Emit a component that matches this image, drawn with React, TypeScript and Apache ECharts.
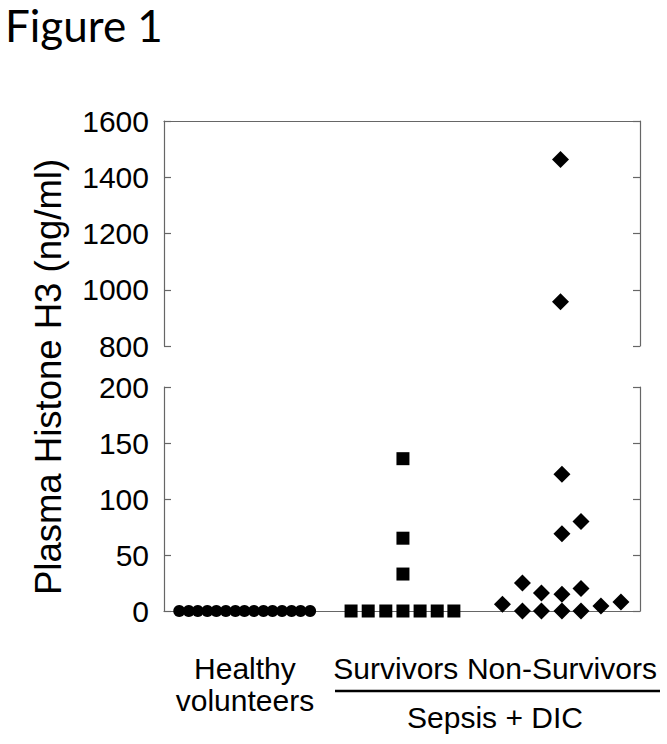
import React, { useEffect, useRef } from "react";
import * as echarts from "echarts";

// Group labels and their x positions (x scale 0..100 across the plot)
const groupLabels = ["Healthy\nvolunteers", "Survivors", "Non-Survivors"];
const groupLabelX = [17, 48.7, 83.6];

// Tick settings
const upperTicks = { min: 800, max: 1600, interval: 200 };
const lowerTicks = { min: 0, max: 200, interval: 50 };

// Data points [x position, plasma histone H3 ng/ml]
const healthy: [number, number][] = [
  [3.2, 0], [5.2, 0], [7.1, 0], [9.1, 0], [11.0, 0], [13.0, 0], [15.0, 0], [16.9, 0],
  [18.9, 0], [20.9, 0], [22.8, 0], [24.8, 0], [26.8, 0], [28.7, 0], [30.7, 0],
];
const survivors: [number, number][] = [
  [39.3, 0], [42.9, 0], [46.6, 0], [50.2, 0], [53.8, 0], [57.4, 0], [60.9, 0],
  [50.2, 33], [50.2, 65], [50.2, 136],
];
const nonSurvivors: [number, number][] = [
  [71.1, 6], [75.3, 25], [75.3, 0], [79.3, 16], [79.3, 0],
  [83.6, 122], [83.6, 69], [83.6, 15], [83.6, 0],
  [87.6, 80], [87.6, 20], [87.6, 0], [91.8, 4.5], [96.0, 8],
  [83.3, 1463], [83.3, 957],
];

const FONT = "'Liberation Sans', Arial, sans-serif";
const AX = "#666666";

export default function App() {
  const ref = useRef<HTMLDivElement>(null);
  useEffect(() => {
    if (!ref.current) return;
    const chart = echarts.init(ref.current, undefined, { renderer: "svg" });
    const gridL = 164, gridR = 27;
    const yAxisCommon = (grid: number, pos: "left" | "right", ticks: any, labels: boolean) => ({
      type: "value",
      gridIndex: grid,
      position: pos,
      min: ticks.min,
      max: ticks.max,
      interval: ticks.interval,
      axisLine: { show: true, lineStyle: { color: AX, width: 1.2 } },
      axisTick: { show: true, inside: true, length: 7, lineStyle: { color: AX, width: 1.2 } },
      axisLabel: labels
        ? { show: true, color: "#000", fontSize: 30, fontFamily: FONT, margin: 15, formatter: (v: number) => String(v) }
        : { show: false },
      splitLine: { show: false },
    });
    const upper = (arr: [number, number][]) => arr.filter((p) => p[1] >= 800);
    const lower = (arr: [number, number][]) => arr.filter((p) => p[1] < 800);
    const mark = { color: "#000", opacity: 1 };
    chart.setOption({
      animation: false,
      backgroundColor: "#fff",
      grid: [
        { left: gridL, right: gridR, top: 121, height: 225 },
        { left: gridL, right: gridR, top: 387, height: 224 },
      ],
      xAxis: [
        {
          type: "value", gridIndex: 0, position: "top", min: 0, max: 100,
          axisLine: { show: true, onZero: false, lineStyle: { color: AX, width: 1.2 } },
          axisTick: { show: false }, axisLabel: { show: false }, splitLine: { show: false },
        },
        {
          type: "value", gridIndex: 1, position: "bottom", min: 0, max: 100,
          axisLine: { show: true, onZero: false, lineStyle: { color: AX, width: 1.2 } },
          axisTick: { show: false },
          splitLine: { show: false },
          axisLabel: {
            show: true,
            customValues: groupLabelX,
            formatter: (v: number) => {
              const i = groupLabelX.indexOf(v);
              return i >= 0 ? groupLabels[i] : "";
            },
            color: "#000", fontSize: 30, fontFamily: FONT, lineHeight: 32, margin: 41,
          },
        },
      ],
      yAxis: [
        yAxisCommon(0, "left", upperTicks, true),
        yAxisCommon(0, "right", upperTicks, false),
        yAxisCommon(1, "left", lowerTicks, true),
        yAxisCommon(1, "right", lowerTicks, false),
      ],
      series: [
        { type: "scatter", xAxisIndex: 1, yAxisIndex: 2, data: lower(healthy), symbol: "circle", symbolSize: 12, itemStyle: mark, clip: false },
        { type: "scatter", xAxisIndex: 1, yAxisIndex: 2, data: lower(survivors), symbol: "rect", symbolSize: 13, itemStyle: mark, clip: false },
        { type: "scatter", xAxisIndex: 1, yAxisIndex: 2, data: lower(nonSurvivors), symbol: "diamond", symbolSize: 17, itemStyle: mark, clip: false },
        { type: "scatter", xAxisIndex: 0, yAxisIndex: 0, data: upper(nonSurvivors), symbol: "diamond", symbolSize: 17, itemStyle: mark, clip: false },
      ],
      graphic: [
        {
          type: "text", left: 5, top: 3,
          style: { text: "Figure 1", fill: "#000", fontSize: 44, fontFamily: "Lato, 'Open Sans', sans-serif" },
        },
        {
          type: "text", x: 48, y: 377, rotation: Math.PI / 2,
          style: { text: "Plasma Histone H3 (ng/ml)", fill: "#000", fontSize: 36.5, fontFamily: FONT, align: "center", verticalAlign: "middle" },
        },
        {
          type: "line", shape: { x1: 335, y1: 691, x2: 660, y2: 691 },
          style: { stroke: "#000", lineWidth: 2.5 },
        },
        {
          type: "text", x: 495, y: 717,
          style: { text: "Sepsis + DIC", fill: "#000", fontSize: 30, fontFamily: FONT, align: "center", verticalAlign: "middle" },
        },
      ],
    });
    return () => chart.dispose();
  }, []);
  return <div ref={ref} style={{ position: "fixed", left: 0, top: 0, width: 667, height: 744 }} />;
}
